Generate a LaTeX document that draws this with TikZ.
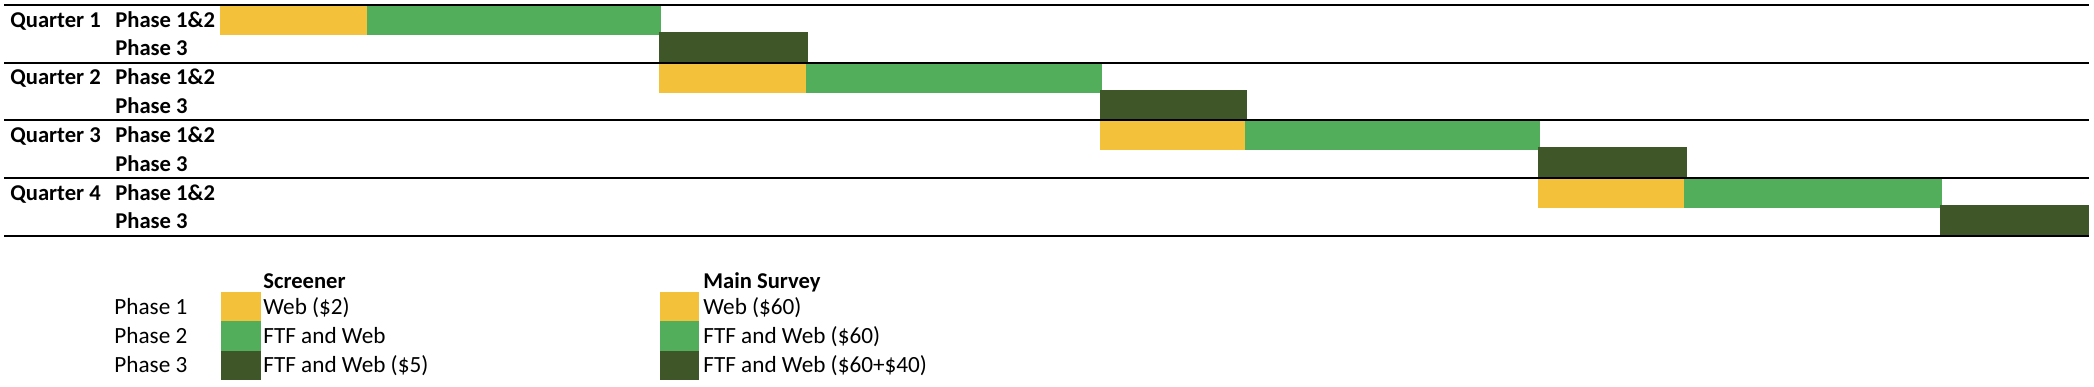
\documentclass[tikz,border=0pt]{standalone}
\usepackage{fontspec}
\setmainfont{Carlito}
\definecolor{webyellow}{RGB}{244,194,58}
\definecolor{ftfgreen}{RGB}{82,174,90}
\definecolor{ftfdark}{RGB}{63,86,40}
\tikzset{rowlabel/.style={anchor=base west,inner sep=0pt,font=\fontsize{11.3}{13}\selectfont\bfseries}}
\tikzset{legtext/.style={anchor=base west,inner sep=0pt,font=\fontsize{11.6}{13}\selectfont}}
\tikzset{qline/.style={line width=1pt,black}}

\begin{document}
\begin{tikzpicture}[x=0.5pt,y=-0.5pt]
  \useasboundingbox (0,0) rectangle (2094,386);
  % draw the bars (quarter/yellow start/green start/green end/dark end)
  \foreach \q/\xa/\xb/\xc/\xd in {0/220/367/661/808,1/659/806/1102/1247,2/1100/1245/1540/1687,3/1538/1684/1942/2089}{
    \pgfmathsetmacro{\yt}{5+57.7*\q}
    \fill[webyellow] (\xa,\yt+1) rectangle (\xb,\yt+30);
    \fill[ftfgreen] (\xb,\yt+1) rectangle (\xc,\yt+30);
    \fill[ftfdark] (\xc-2,\yt+27) rectangle (\xd,\yt+57.7);
  }
  % draw the quarter lines
  \foreach \i in {0,...,4}
    \draw[qline] (4,5+57.7*\i) -- (2089,5+57.7*\i);
  % row labels
  \foreach \q in {1,...,4}{
    \pgfmathsetmacro{\yt}{5+57.7*(\q-1)}
    \node[rowlabel] (q\q) at (10,\yt+22) {Quarter \q};
    \node[rowlabel] (pa\q) at (115,\yt+22) {Phase 1\&2};
    \node[rowlabel] (pb\q) at (115,\yt+50.8) {Phase 3};
  }
  % legend
  \node[rowlabel] (scr) at (263,288) {Screener};
  \node[rowlabel] (main) at (703,288) {Main Survey};
  \foreach \c/\sa/\ma [count=\i] in {webyellow/Web (\$2)/Web (\$60),ftfgreen/FTF and Web/FTF and Web (\$60),ftfdark/FTF and Web (\$5)/FTF and Web (\$60+\$40)}{
    \pgfmathsetmacro{\yt}{292+29.3*(\i-1)}
    \fill[\c] (221,\yt) rectangle (261,\yt+29.3);
    \fill[\c] (660,\yt) rectangle (699,\yt+29.3);
    \node[legtext] (ph\i) at (114,\yt+22) {Phase \i};
    \node[legtext] (s\i) at (263,\yt+22) {\sa};
    \node[legtext] (m\i) at (703,\yt+22) {\ma};
  }
\end{tikzpicture}
\end{document}
